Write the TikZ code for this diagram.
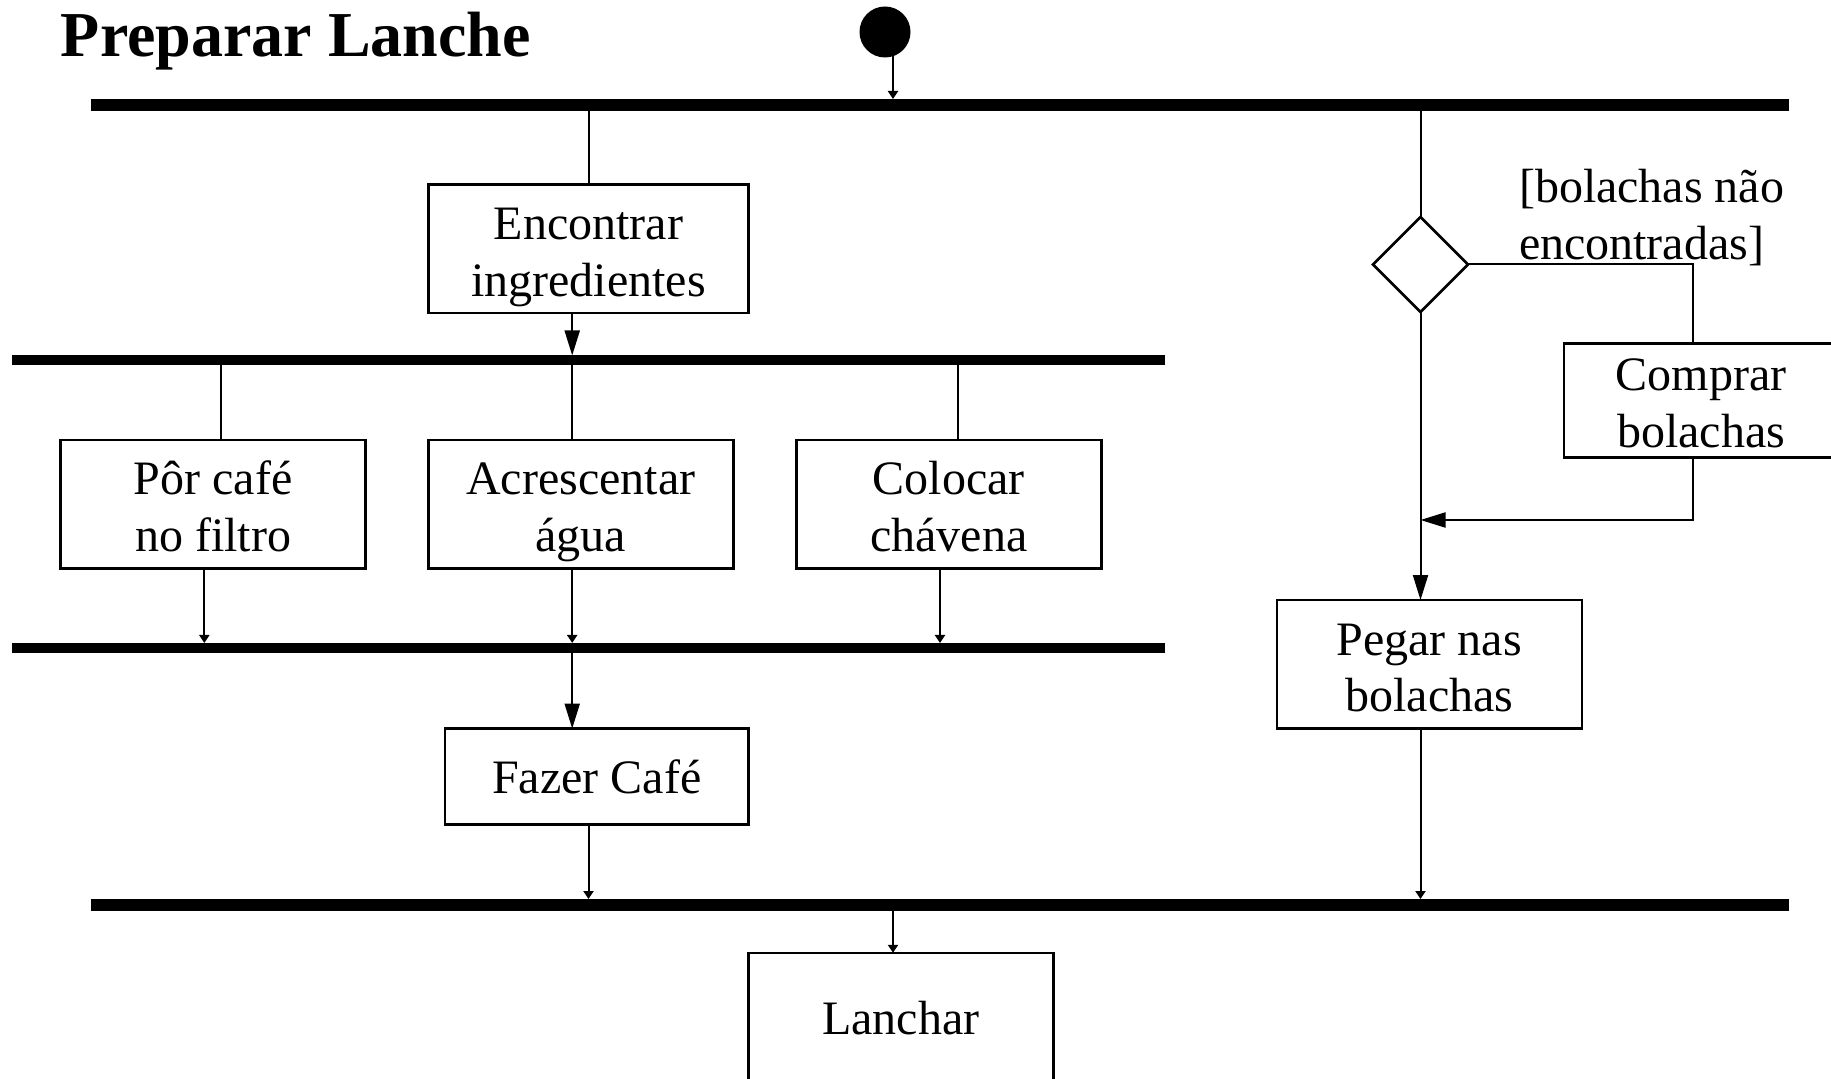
\documentclass[tikz,border=0pt]{standalone}
\usepackage{fontspec}
\setmainfont{Liberation Serif}
\usetikzlibrary{arrows.meta,shapes.geometric}

% two centred lines on a fixed line grid, set slightly below the box centre
\newcommand\twolines[2]{\raisebox{-3.9pt}[\height][\depth]{%
  \begin{tabular}{@{}c@{}}\strut#1\\\strut#2\end{tabular}}}

\begin{document}
\begin{tikzpicture}[x=0.5pt,y=-0.5pt,
  every node/.style={inner sep=0pt,outer sep=0pt},
  txt/.style={font=\fontsize{24}{28.5}\selectfont},
  activity/.style={draw,line width=1.3pt,align=center,txt,
    minimum width=152.5pt,minimum height=64.25pt},
  syncbar/.style={fill=black,draw=none},
  flow/.style={line width=1pt},
  bigarrow/.style={flow,-{Triangle[length=12.5pt,width=7.5pt]}},
  smallarrow/.style={flow,-{Triangle[length=4pt,width=5pt]}}
]
\fill[white] (0,0) rectangle (1831,1079);
\useasboundingbox (0,0) rectangle (1831,1079);

% title
\node[anchor=base west,font=\fontsize{32}{38}\selectfont\bfseries] (title) at (61,57) {Preparar Lanche};

% initial state
\node[circle,fill=black,minimum size=25.5pt] (start) at (885,32) {};

% fork / join bars
\node[syncbar,minimum width=849pt,minimum height=6pt]   (b1) at (940,105) {};
\node[syncbar,minimum width=576.5pt,minimum height=5pt] (b2) at (588.5,360.5) {};
\node[syncbar,minimum width=576.5pt,minimum height=5pt] (b3) at (588.5,648) {};
\node[syncbar,minimum width=849pt,minimum height=6pt]   (b4) at (940,905) {};

% activities
\node[activity,minimum width=160pt] (enc) at (588.5,248.75) {\twolines{Encontrar}{ingredientes}};
\node[activity] (por) at (213.1,504.3) {\twolines{Pôr café}{no filtro}};
\node[activity] (acr) at (580.9,504.3) {\twolines{Acrescentar}{água}};
\node[activity] (col) at (948.8,504.3) {\twolines{Colocar}{chávena}};
\node[activity,minimum width=151.8pt,minimum height=47.9pt] (faz) at (596.7,776.5) {Fazer Café};
\node[activity,minimum height=65.2pt] (lan) at (900.9,1018) {Lanchar};
\node[activity,minimum width=137pt,minimum height=56.25pt] (com) at (1701,400.3) {\twolines{Comprar}{bolachas}};
\node[activity] (peg) at (1429.3,664.3) {\twolines{Pegar nas}{bolachas}};

% decision
\node[diamond,draw,line width=1.3pt,minimum width=47.5pt,minimum height=47.5pt] (dia) at (1420.5,264.5) {};
\node[anchor=west,align=left,txt] (guard) at (1519,217.5) {[bolachas não\\encontradas]};

% connector columns
\coordinate (xA)  at (220.7,0);
\coordinate (xAa) at (204.3,0);
\coordinate (xB)  at (572.2,0);
\coordinate (xC)  at (957.5,0);
\coordinate (xCa) at (940,0);
\coordinate (xD)  at (588.5,0);
\coordinate (xS)  at (893,0);
\coordinate (xK)  at (1693,0);
\coordinate (jn)  at (1420.5,520);

% connectors
\draw[smallarrow] (start.center -| xS) -- (b1.north -| xS);
\draw[flow] (b1.south -| enc) -- (enc.north);
\draw[bigarrow] (enc.south -| xB) -- (b2.north -| xB);
\draw[flow] (b2.south -| xA) -- (por.north -| xA);
\draw[flow] (b2.south -| xB) -- (acr.north -| xB);
\draw[flow] (b2.south -| xC) -- (col.north -| xC);
\draw[smallarrow] (por.south -| xAa) -- (b3.north -| xAa);
\draw[smallarrow] (acr.south -| xB) -- (b3.north -| xB);
\draw[smallarrow] (col.south -| xCa) -- (b3.north -| xCa);
\draw[bigarrow] (b3.south -| xB) -- (faz.north -| xB);
\draw[smallarrow] (faz.south -| xD) -- (b4.north -| xD);
\draw[smallarrow] (b4.south -| xS) -- (lan.north -| xS);

\draw[flow] (b1.south -| dia) -- (dia.north);
\draw[flow] (dia.east) -| (com.north -| xK);
\draw[bigarrow] (com.south -| xK) |- (jn);
\draw[bigarrow] (dia.south) -- (peg.north -| dia);
\draw[smallarrow] (peg.south -| dia) -- (b4.north -| dia);
\end{tikzpicture}
\end{document}
